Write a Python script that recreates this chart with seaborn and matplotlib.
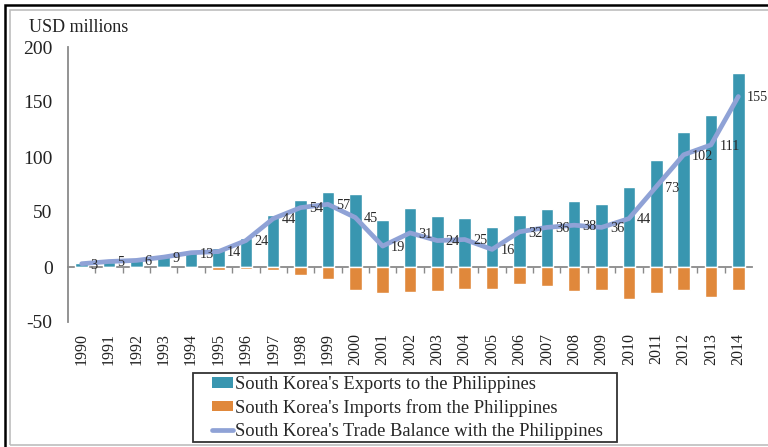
import matplotlib
matplotlib.use("Agg")
import matplotlib.pyplot as plt
import seaborn as sns
import pandas as pd
from matplotlib.patches import Patch, Rectangle
from matplotlib.lines import Line2D

years = [str(y) for y in range(1990, 2015)]
exports = [4, 5, 6, 10, 14, 17, 26, 47, 61, 68, 66, 43, 54, 46, 45, 36,
           47, 53, 60, 57, 73, 97, 123, 138, 176]
imports = [-1, -1, -1, -1, -1, -3, -2, -3, -7, -11, -21, -24, -23, -22, -20, -20,
           -15, -17, -22, -21, -29, -24, -21, -27, -21]
balance = [3, 5, 6, 9, 13, 14, 24, 44, 54, 57, 45, 19, 31, 24, 25, 16,
           32, 36, 38, 36, 44, 73, 102, 111, 155]
series_names = ["South Korea's Exports to the Philippines",
                "South Korea's Imports from the Philippines",
                "South Korea's Trade Balance with the Philippines"]
y_ticks = [-50, 0, 50, 100, 150, 200]

df = pd.DataFrame({"year": years, "exports": exports,
                   "imports": imports, "balance": balance})

sns.set_theme(style="white")
plt.rcParams["font.family"] = ["Liberation Serif", "DejaVu Serif"]

C_EXP = "#3996B0"
C_IMP = "#E0883B"
C_BAL = "#8FA2D6"
GREY = "#8a8a8a"

fig = plt.figure(figsize=(7.68, 4.47), dpi=100)
fig.patch.set_facecolor("white")
W, H = 768, 447
ax = fig.add_axes([68 / W, 1 - 322 / H, (752 - 68) / W, (322 - 47) / H])

sns.barplot(data=df, x="year", y="exports", color=C_EXP, saturation=1,
            width=0.46, ax=ax, zorder=2)
sns.barplot(data=df, x="year", y="imports", color=C_IMP, saturation=1,
            width=0.46, ax=ax, zorder=2)
sns.lineplot(x=range(len(years)), y=df["balance"], color=C_BAL, lw=3.4,
             ax=ax, zorder=3, solid_joinstyle="round", solid_capstyle="round")

for i, v in enumerate(balance):
    ax.annotate(str(v), (i, v), xytext=(6, -1), textcoords="offset points",
                ha="left", va="center", fontsize=10.3, color="#2a2a2a", zorder=4)

ax.set_xlim(-0.5, len(years) - 0.5)
ax.set_ylim(-50, 200)
ax.set_yticks(y_ticks)
ax.set_yticklabels([str(t) for t in y_ticks], fontsize=14, color="#222222")
ax.set_xticks(range(len(years)))
ax.set_xticklabels(years, rotation=90, fontsize=11.5, color="#222222")
ax.tick_params(axis="x", length=0, pad=8)
ax.tick_params(axis="y", direction="in", length=4, width=1, color=GREY, pad=11)
ax.set_xlabel("")
ax.set_ylabel("")
for s in ["top", "right", "bottom"]:
    ax.spines[s].set_visible(False)
ax.spines["left"].set_color(GREY)
ax.spines["left"].set_linewidth(1.3)
ax.grid(False)

# zero line with category-boundary ticks
zero_frac = (0 - (-50)) / (200 - (-50))
sec = ax.secondary_xaxis(zero_frac)
sec.set_xticks([i + 0.5 for i in range(len(years) - 1)])
sec.tick_params(axis="x", direction="out", length=4, width=1, color=GREY,
                labelbottom=False)
sec.spines["bottom"].set_color(GREY)
sec.spines["bottom"].set_linewidth(1.3)

fig.text(29 / W, 1 - 27 / H, "USD millions", fontsize=13, color="#222222",
         ha="left", va="center")

handles = [Patch(facecolor=C_EXP, edgecolor="none"),
           Patch(facecolor=C_IMP, edgecolor="none"),
           Line2D([0], [0], color=C_BAL, lw=3.4, solid_capstyle="round")]
leg = fig.legend(handles, series_names, loc="upper left",
                 bbox_to_anchor=(212 / W, 1 - 376 / H), ncol=1, fontsize=13.3,
                 frameon=False, handlelength=1.15, handleheight=0.5,
                 handletextpad=0.12, labelspacing=0.32,
                 borderpad=0, borderaxespad=0)

# legend border with wider side margins
fig.canvas.draw()
bb = leg.get_window_extent()
x0, x1 = bb.x0 - 19, bb.x1 + 14
y0, y1 = bb.y0 - 2, bb.y1 + 3
fig.add_artist(Rectangle((x0 / W, y0 / H), (x1 - x0) / W, (y1 - y0) / H,
                         fill=False, edgecolor="#333333", lw=1.3,
                         transform=fig.transFigure))

# page frames
fig.add_artist(Rectangle((5 / W, -0.1), 1.2, 1 - 5 / H + 0.1, fill=False,
                         edgecolor="black", lw=1.8, transform=fig.transFigure))
fig.add_artist(Rectangle((10 / W, 2 / H), 1.2, 1 - 12 / H, fill=False,
                         edgecolor="#bdbdbd", lw=1.2, transform=fig.transFigure))

fig.savefig("out.png", dpi=100)
